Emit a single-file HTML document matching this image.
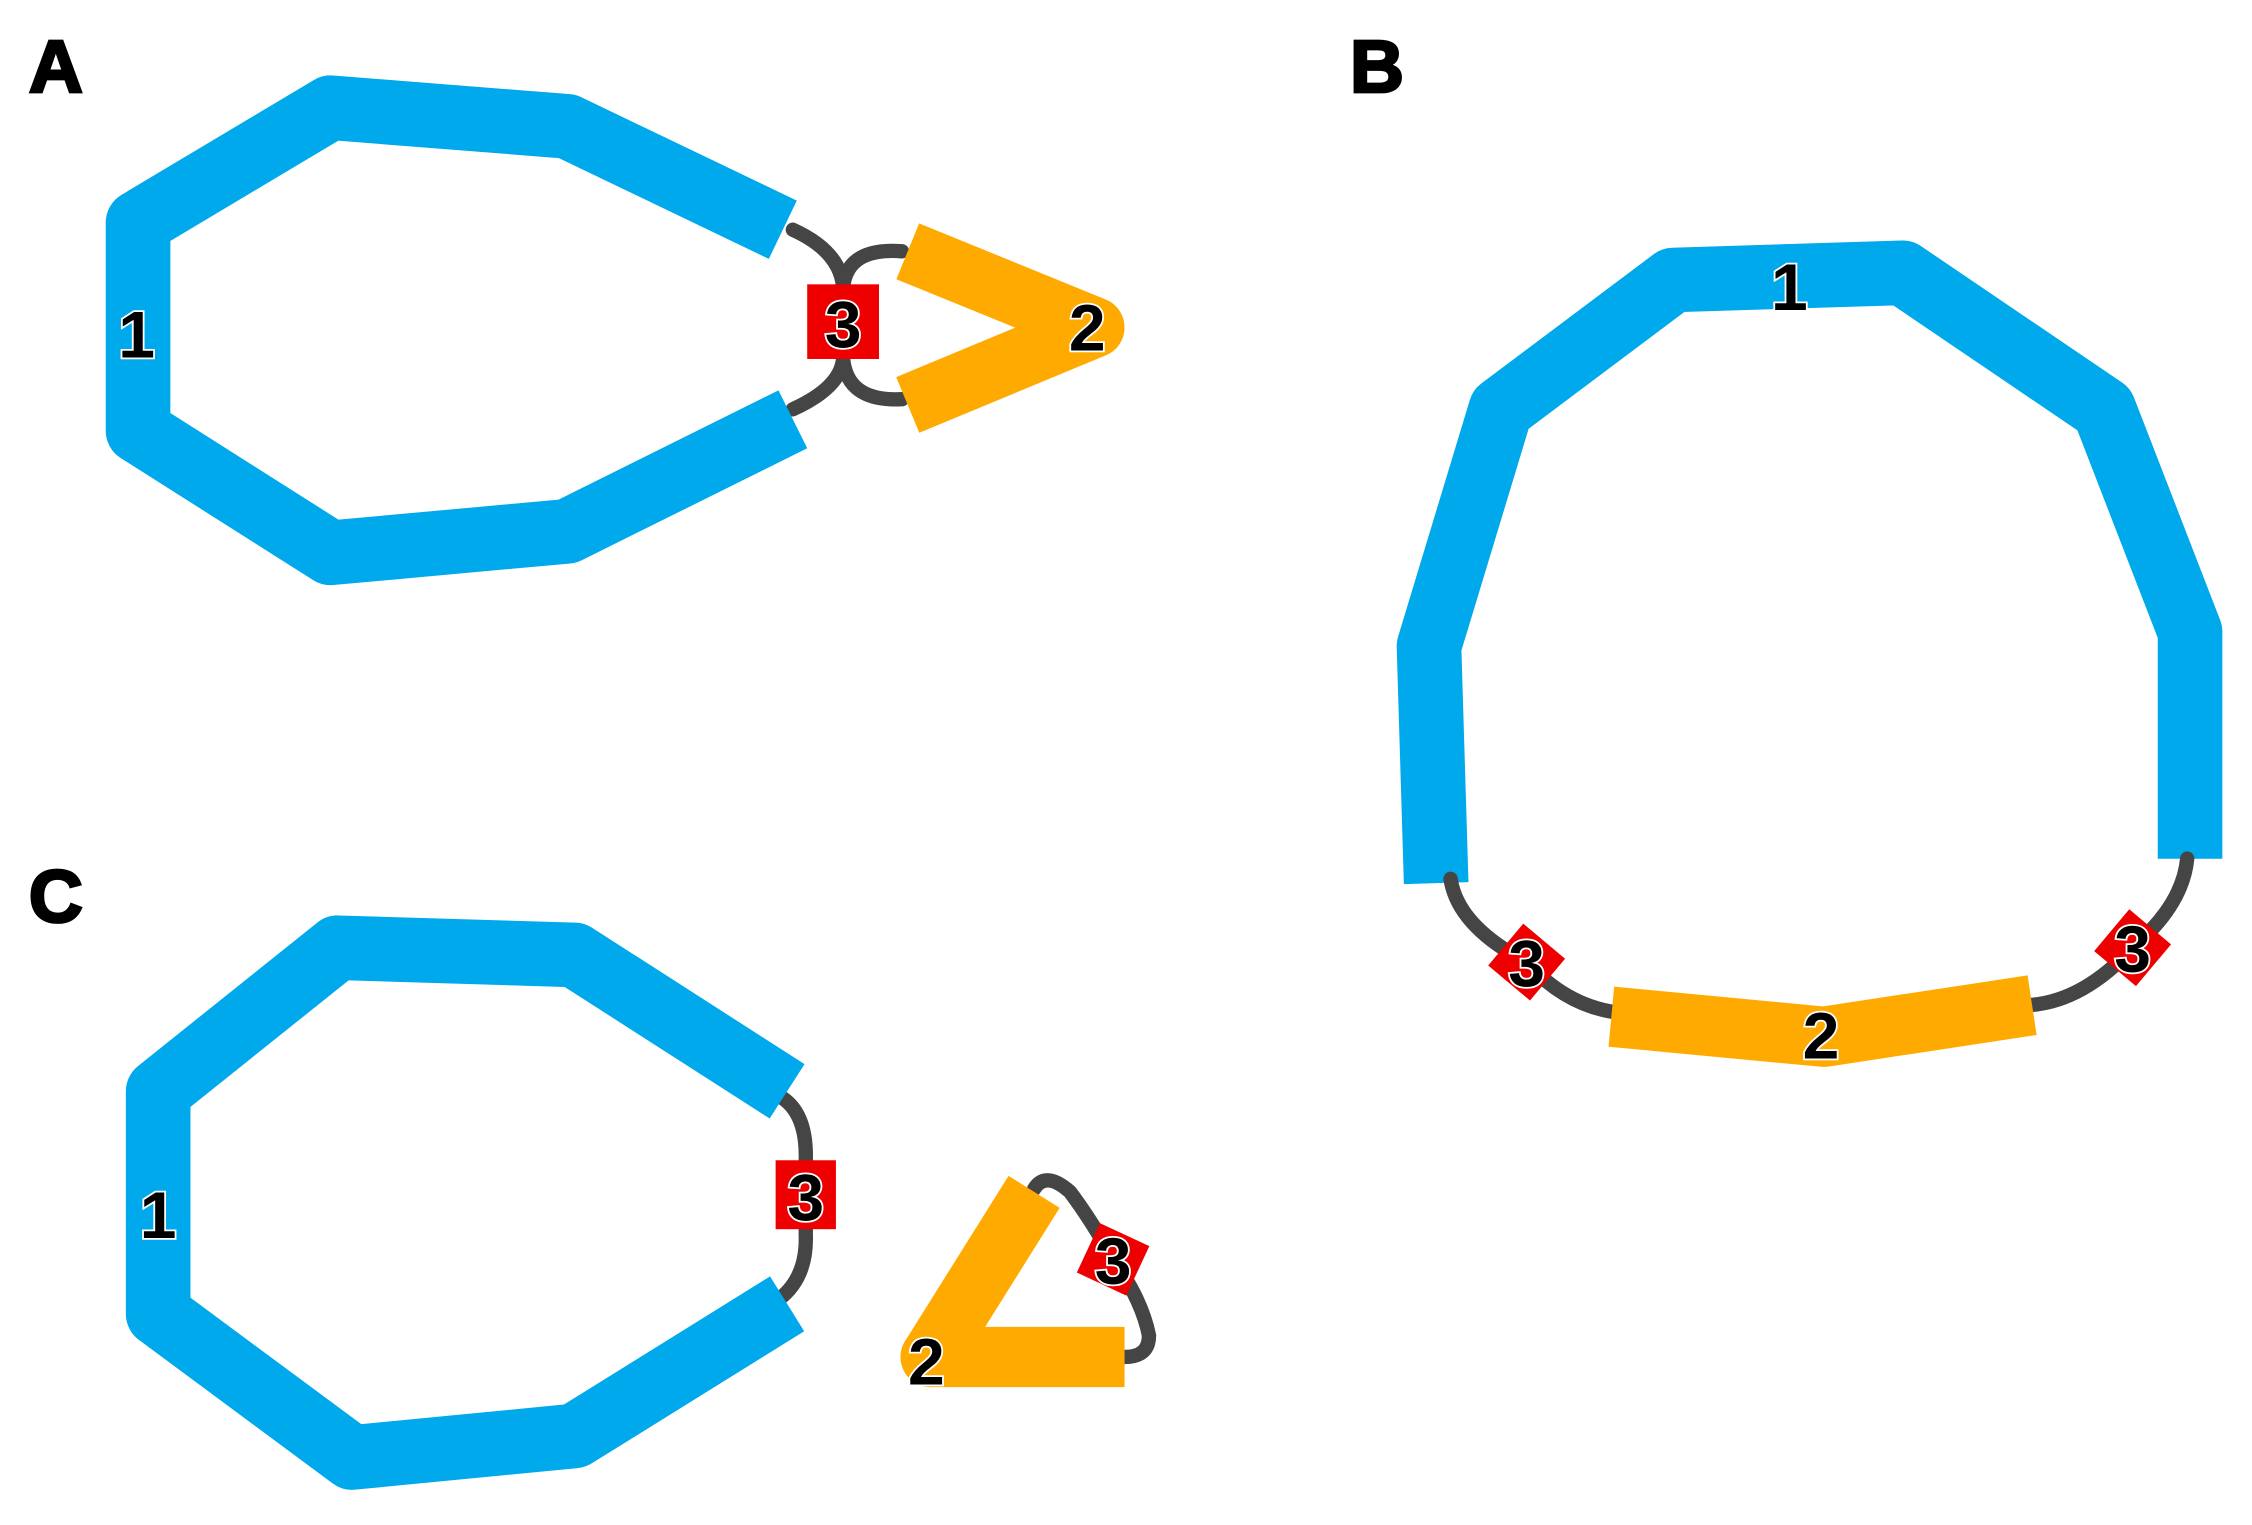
<!DOCTYPE html>
<html><head><style>
html,body{margin:0;padding:0;background:#fff;}
svg{display:block;}
.lbl{font-family:"Liberation Sans",Arial,sans-serif;font-weight:bold;font-size:46px;fill:#000;stroke:#fff;stroke-width:2.5px;paint-order:stroke;text-anchor:middle;}
.pl{font-family:"Liberation Sans",Arial,sans-serif;font-weight:bold;font-size:52px;fill:#000;stroke:#000;stroke-width:2px;}
.b{fill:none;stroke:#00a8ec;stroke-width:45;stroke-linejoin:round;stroke-linecap:butt;}
.o{fill:none;stroke:#ffaa00;stroke-width:42;stroke-linejoin:round;stroke-linecap:butt;}
.g{fill:none;stroke:#454545;stroke-width:10;stroke-linecap:round;}
</style></head><body>
<svg width="2252" height="1525" viewBox="0 0 1568 1062" xmlns="http://www.w3.org/2000/svg">
<text class="pl" x="20" y="64">A</text>
<text class="pl" x="940" y="64">B</text>
<text class="pl" x="20" y="642">C</text>

<!-- Panel A -->
<path class="g" d="M552,160 Q585,175 587,200 M552,285 Q585,270 587,250"/>
<path class="g" d="M587,200 Q590,172 628,175 M587,250 Q590,280 628,278"/>
<polyline class="b" points="545,160 395,88 230,75 96,155 96,300 230,385 395,370 552,292"/>
<path class="o" d="M632,175 L762,228 L632,282"/>
<circle cx="760" cy="228" r="20" fill="#ffaa00"/>
<rect x="562" y="198" width="50" height="52" fill="#ee0000"/>
<text class="lbl" x="587" y="242">3</text>
<text class="lbl" x="757" y="244">2</text>
<text class="lbl" x="95" y="249">1</text>

<!-- Panel B -->
<polyline class="b" points="1000,615 995,450 1045,285 1165,195 1325,190 1465,285 1525,440 1525,598"/>
<path class="g" d="M1010,612 Q1015,645 1063,670 Q1090,700 1125,705"/>
<path class="g" d="M1412,700 Q1450,698 1485,660 Q1520,630 1523,598"/>
<polyline class="o" points="1122,708 1270,722 1415,700"/>
<rect x="1044" y="651" width="38" height="38" fill="#ee0000" transform="rotate(40 1063 670)"/>
<rect x="1466" y="641" width="38" height="38" fill="#ee0000" transform="rotate(40 1485 660)"/>
<text class="lbl" x="1063" y="687">3</text>
<text class="lbl" x="1485" y="677">3</text>
<text class="lbl" x="1268" y="737">2</text>
<text class="lbl" x="1246" y="216">1</text>

<!-- Panel C -->
<path class="g" d="M540,762 Q562,772 561,808 L561,860 Q562,890 542,905"/>
<polyline class="b" points="548,760 400,665 235,660 110,760 110,915 245,1015 400,1000 548,908"/>
<path class="g" d="M720,828 Q728,815 745,830 Q760,850 775,877 Q795,905 800,930 Q800,945 783,945"/>
<path class="o" d="M720,830 L648,945 L783,945"/>
<circle cx="648" cy="945" r="21" fill="#ffaa00"/>
<rect x="540" y="808" width="42" height="48" fill="#ee0000"/>
<text class="lbl" x="561" y="850">3</text>
<rect x="756" y="858" width="38" height="38" fill="#ee0000" transform="rotate(25 775 877)"/>
<text class="lbl" x="775" y="894">3</text>
<text class="lbl" x="645" y="964">2</text>
<text class="lbl" x="110" y="862">1</text>
</svg>
</body></html>
